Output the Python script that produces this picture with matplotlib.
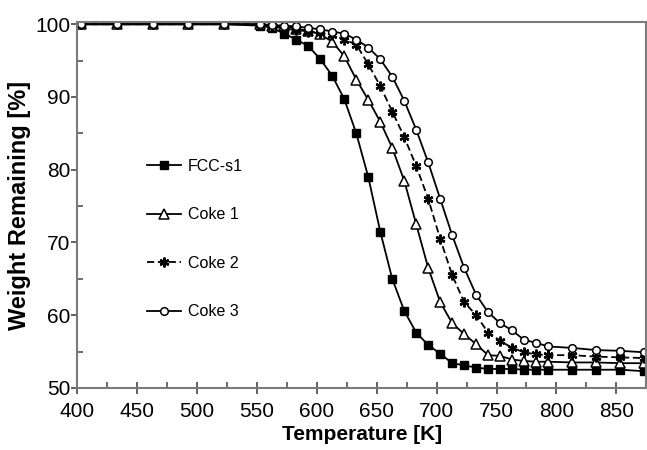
import matplotlib

matplotlib.use("Agg")
import matplotlib.pyplot as plt
from matplotlib.ticker import MultipleLocator

plt.rcParams["font.family"] = ["Liberation Sans", "DejaVu Sans"]

# temperatures at which the markers sit (shared by all four runs)
temps = [403, 433, 463, 493, 523, 553, 563, 573, 583, 593, 603, 613, 623, 633,
         643, 653, 663, 673, 683, 693, 703, 713, 723, 733, 743, 753, 763, 773,
         783, 793, 813, 833, 853, 873]

fcc_s1 = [100, 100, 100, 100, 100, 99.8, 99.5, 98.7, 97.9, 97.0, 95.2, 92.9,
          89.7, 85.0, 79.0, 71.5, 65.0, 60.6, 57.6, 55.9, 54.7, 53.4, 53.1,
          52.8, 52.6, 52.6, 52.6, 52.5, 52.5, 52.5, 52.5, 52.5, 52.5, 52.3]
coke_1 = [100, 100, 100, 100, 100, 100, 99.8, 99.7, 99.4, 99.1, 98.6, 97.6,
          95.6, 92.4, 89.6, 86.6, 83.0, 78.5, 72.5, 66.5, 61.8, 58.9, 57.4,
          56.0, 54.5, 54.4, 53.9, 53.7, 53.6, 53.6, 53.5, 53.5, 53.4, 53.4]
coke_2 = [100, 100, 100, 100, 100, 100, 99.7, 99.4, 99.2, 99.0, 98.8, 98.5,
          97.9, 97.2, 94.5, 91.5, 88.0, 84.5, 80.5, 76.0, 70.5, 65.5, 61.8,
          60.0, 57.6, 56.5, 55.5, 54.9, 54.6, 54.5, 54.5, 54.3, 54.2, 54.1]
coke_3 = [100, 100, 100, 100, 100, 100, 99.9, 99.8, 99.7, 99.5, 99.3, 99.0,
          98.7, 97.9, 96.8, 95.2, 92.8, 89.5, 85.5, 81.0, 76.0, 71.0, 66.5,
          62.8, 60.4, 58.9, 57.9, 56.6, 56.2, 55.7, 55.5, 55.2, 55.1, 54.9]

fig = plt.figure(figsize=(6.47, 4.5), dpi=100)
ax = fig.add_axes([0.119, 0.138, 0.880, 0.813])

kw = dict(color="black", lw=1.3)
ax.plot(temps, fcc_s1, marker="s", ms=5.5, mfc="black", label="FCC-s1", **kw)
ax.plot(temps, coke_1, marker="^", ms=6.5, mfc="white", mew=1.1, label="Coke 1", **kw)
ax.plot(temps, coke_2, marker=(6, 2, 0), ms=7, mew=1.7, ls=(0, (4, 2)), label="Coke 2", **kw)
ax.plot(temps, coke_3, marker="o", ms=5.5, mfc="white", mew=1.1, label="Coke 3", **kw)

ax.set_xlim(400, 875)
ax.set_ylim(50, 100.3)
ax.xaxis.set_major_locator(MultipleLocator(50))
ax.xaxis.set_minor_locator(MultipleLocator(25))
ax.yaxis.set_major_locator(MultipleLocator(10))
ax.yaxis.set_minor_locator(MultipleLocator(5))

for s in ax.spines.values():
    s.set_color("#7a7a7a")
    s.set_linewidth(1.5)
ax.tick_params(axis="x", which="major", direction="inout", length=8, width=1.3,
               color="#555555", labelsize=15, pad=6)
ax.tick_params(axis="y", which="major", direction="out", length=4, width=1.3,
               color="#555555", labelsize=15, pad=1)
ax.tick_params(which="minor", direction="in", length=4, width=1.2, color="#555555")
ax.tick_params(which="both", top=False, right=False)

ax.set_xlabel("Temperature [K]", fontsize=15, fontweight="bold", labelpad=3)
ax.set_ylabel("Weight Remaining [%]", fontsize=17, fontweight="bold", labelpad=3)

ax.legend(loc="upper left", bbox_to_anchor=(0.098, 0.666), frameon=False,
          fontsize=11.5, handlelength=2.1, labelspacing=2.1, handletextpad=0.45)

fig.savefig("out.png", dpi=100)
